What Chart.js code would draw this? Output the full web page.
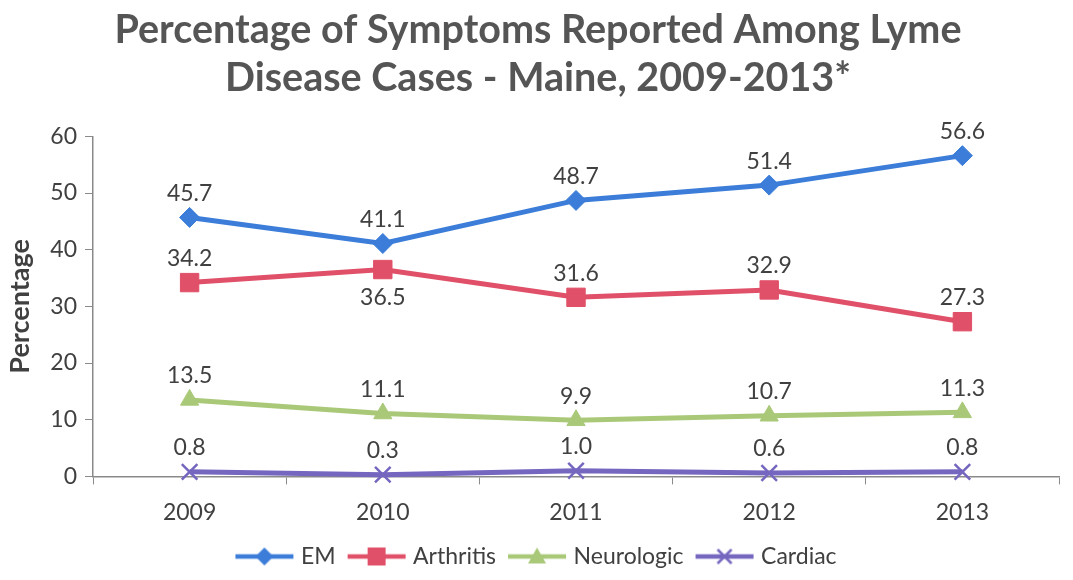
<!DOCTYPE html>
<html>
<head>
<meta charset="utf-8">
<script src="https://cdn.jsdelivr.net/npm/chart.js@4.4.1/dist/chart.umd.min.js"></script>
<style>
  html, body { margin: 0; padding: 0; background: #fff; }
  #wrap { width: 1073px; height: 580px; }
</style>
</head>
<body>
<div id="wrap"><canvas id="lymeChart" width="1073" height="580"></canvas></div>
<script>
const years = ["2009", "2010", "2011", "2012", "2013"];
const emValues = [45.7, 41.1, 48.7, 51.4, 56.6];
const arthritisValues = [34.2, 36.5, 31.6, 32.9, 27.3];
const neuroValues = [13.5, 11.1, 9.9, 10.7, 11.3];
const cardiacValues = [0.8, 0.3, 1.0, 0.6, 0.8];
const yTicks = [0, 10, 20, 30, 40, 50, 60];

const textColor = "#404040";
const fontFam = "Lato, 'Open Sans', sans-serif";

// little line+marker icon for the legend
function legendIcon(color, style) {
  const c = document.createElement("canvas");
  c.width = 62; c.height = 24;
  const g = c.getContext("2d");
  g.strokeStyle = color; g.fillStyle = color; g.lineWidth = 4.5;
  g.beginPath(); g.moveTo(2, 12); g.lineTo(60, 12); g.stroke();
  g.beginPath();
  if (style === "rectRot") {
    g.moveTo(31, 3); g.lineTo(40, 12); g.lineTo(31, 21); g.lineTo(22, 12); g.closePath(); g.fill();
  } else if (style === "rect") {
    g.fillRect(22, 3, 18, 18);
  } else if (style === "triangle") {
    g.moveTo(31, 3); g.lineTo(40, 19); g.lineTo(22, 19); g.closePath(); g.fill();
  } else {
    g.lineWidth = 2.5;
    g.moveTo(24, 5); g.lineTo(38, 19); g.moveTo(38, 5); g.lineTo(24, 19); g.stroke();
  }
  return c;
}

// value labels above (or below) each point
const valueLabels = {
  id: "valueLabels",
  afterDatasetsDraw(chart) {
    const ctx = chart.ctx;
    ctx.save();
    ctx.font = "23px " + fontFam;
    ctx.fillStyle = textColor;
    ctx.textAlign = "center";
    ctx.textBaseline = "middle";
    chart.data.datasets.forEach((ds, i) => {
      const meta = chart.getDatasetMeta(i);
      meta.data.forEach((pt, j) => {
        const below = ds.labelBelow && ds.labelBelow[j];
        const y = below ? pt.y + 28 : pt.y - 24;
        ctx.fillText(ds.data[j].toFixed(1), pt.x, y);
      });
    });
    ctx.restore();
  }
};

const series = [
  { label: "EM", data: emValues, color: "#3b7dd8", style: "rectRot", radius: 10 },
  { label: "Arthritis", data: arthritisValues, color: "#e05068", style: "rect", radius: 13 },
  { label: "Neurologic", data: neuroValues, color: "#a9c979", style: "triangle", radius: 10.5 },
  { label: "Cardiac", data: cardiacValues, color: "#7566bf", style: "crossRot", radius: 11 }
];
series[1].labelBelow = [false, true, false, false, false];

new Chart(document.getElementById("lymeChart"), {
  type: "line",
  data: {
    labels: years,
    datasets: series.map(s => ({
      label: s.label,
      data: s.data,
      borderColor: s.color,
      backgroundColor: s.color,
      borderWidth: 5,
      pointStyle: s.style,
      pointRadius: s.radius,
      pointHoverRadius: s.radius,
      pointBorderWidth: s.style === "crossRot" ? 2.5 : 1,
      tension: 0,
      clip: false,
      labelBelow: s.labelBelow
    }))
  },
  options: {
    responsive: false,
    animation: false,
    layout: { padding: { left: 0, right: -3, top: 6, bottom: 2 } },
    plugins: {
      title: {
        display: true,
        text: ["Percentage of Symptoms Reported Among Lyme", "Disease Cases - Maine, 2009-2013*"],
        font: { family: fontFam, size: 39.5, weight: "bold", lineHeight: 1.22 },
        color: "#555555",
        padding: { top: 0, bottom: 34 }
      },
      legend: {
        position: "bottom",
        labels: {
          usePointStyle: true,
          pointStyleWidth: 50,
          padding: 16,
          font: { family: fontFam, size: 23 },
          color: textColor,
          generateLabels(chart) {
            return series.map((s, i) => ({
              text: s.label,
              datasetIndex: i,
              pointStyle: legendIcon(s.color, s.style),
              fontColor: textColor,
              lineWidth: 0,
              strokeStyle: "transparent",
              fillStyle: s.color
            }));
          }
        }
      },
      tooltip: { enabled: false }
    },
    scales: {
      x: {
        offset: true,
        afterFit(scale) { scale.height -= 11; },
        grid: { display: true, drawOnChartArea: false, drawTicks: true, tickLength: 8, color: "#8a8a8a", offset: true },
        border: { display: true, color: "#8a8a8a", width: 1.5 },
        ticks: { font: { family: fontFam, size: 23 }, color: textColor, padding: 14 }
      },
      y: {
        min: 0,
        max: 60,
        afterBuildTicks(scale) { scale.ticks = yTicks.map(v => ({ value: v })); },
        afterFit(scale) { scale.width = 93; },
        title: {
          display: true,
          text: "Percentage",
          font: { family: fontFam, size: 27, weight: "bold" },
          color: textColor,
          padding: { top: 4, bottom: 4 }
        },
        grid: { display: true, drawOnChartArea: false, drawTicks: true, tickLength: 8, color: "#8a8a8a" },
        border: { display: true, color: "#8a8a8a", width: 1.5 },
        ticks: { font: { family: fontFam, size: 23 }, color: textColor, padding: 8 }
      }
    }
  },
  plugins: [valueLabels]
});
</script>
</body>
</html>
